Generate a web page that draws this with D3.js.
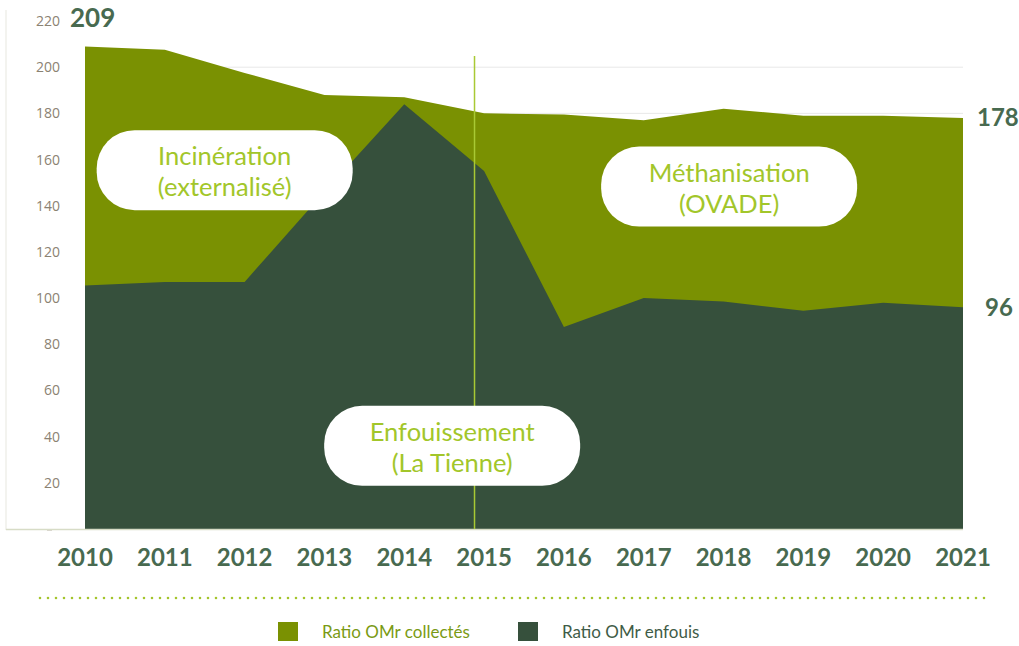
<!DOCTYPE html>
<html>
<head>
<meta charset="utf-8">
<script src="https://cdn.jsdelivr.net/npm/d3@7"></script>
<style>
  body { margin: 0; background: #fff; }
  svg { display: block; }
  .ytick text { font-family: 'Open Sans', sans-serif; font-size: 14px; fill: #8b8272; }
  .year { font-family: Lato, sans-serif; font-weight: 700; font-size: 24px; fill: #486a50; }
  .endval { font-family: Lato, sans-serif; font-weight: 700; font-size: 26px; fill: #486a50; }
  .endval.right { font-size: 24px; }
  .zone { font-family: Lato, sans-serif; font-size: 25.5px; fill: #a2c62a; }
  .leg { font-family: Lato, sans-serif; font-size: 17px; }
</style>
</head>
<body>
<div id="chart"></div>
<script>
'use strict';

const years = [2010, 2011, 2012, 2013, 2014, 2015, 2016, 2017, 2018, 2019, 2020, 2021];
const collectes = [209, 207.5, 197.5, 188, 187, 180, 179.5, 177, 182, 179, 179, 178];
const enfouis = [105.5, 107, 107, 146, 184, 155, 87.5, 100, 98.5, 94.5, 98, 96];
const yTicks = [20, 40, 60, 80, 100, 120, 140, 160, 180, 200, 220];

const zones = [
    {lines: ['Incinération', '(externalisé)'], year: 2011.75, value: 155.4},
    {lines: ['Méthanisation', '(OVADE)'], year: 2018.07, value: 148.3},
    {lines: ['Enfouissement', '(La Tienne)'], year: 2014.6, value: 36}
];

const series = [
    {name: 'Ratio OMr collectés', color: '#7a9102', text: '#7a9a14'},
    {name: 'Ratio OMr enfouis', color: '#36503c', text: '#3f5c47'}
];

const dim = {width: 1019, height: 646, left: 85, right: 963, top: 21, bottom: 529};

const svg = d3.select('#chart')
    .append('svg')
    .attr('width', dim.width)
    .attr('height', dim.height);

const xScale = d3.scalePoint()
    .domain(years)
    .range([dim.left, dim.right]);

const xLin = d3.scaleLinear()
    .domain([years[0], years[years.length - 1]])
    .range([dim.left, dim.right]);

const yScale = d3.scaleLinear()
    .domain([0, 220])
    .range([dim.bottom, dim.top]);

// left frame line
svg.append('line')
    .attr('x1', 6).attr('x2', 6)
    .attr('y1', 10).attr('y2', dim.bottom + 1)
    .attr('stroke', '#efefea').attr('stroke-width', 1.5);

// gridlines
svg.append('g')
    .selectAll('line')
    .data(yTicks.filter(t => t <= 200))
    .enter()
    .append('line')
    .attr('x1', dim.left).attr('x2', dim.right)
    .attr('y1', d => yScale(d)).attr('y2', d => yScale(d))
    .attr('stroke', '#e8e8e8');

// y axis
const yAxis = svg.append('g')
    .attr('transform', 'translate(60,0)')
    .call(d3.axisLeft(yScale).tickValues(yTicks).tickSize(0).tickPadding(0));
yAxis.select('.domain').remove();
yAxis.selectAll('.tick').attr('class', 'ytick');
yAxis.selectAll('text').attr('fill', null);

svg.append('line')
    .attr('x1', 47).attr('x2', 52)
    .attr('y1', yScale(0) + 1).attr('y2', yScale(0) + 1)
    .attr('stroke', '#b5ae9f');

// areas
const area = d3.area()
    .x((d, i) => xScale(years[i]))
    .y0(yScale(0))
    .y1(d => yScale(d));

svg.append('path')
    .datum(collectes)
    .attr('d', area)
    .attr('fill', series[0].color);

svg.append('path')
    .datum(enfouis)
    .attr('d', area)
    .attr('fill', series[1].color);

// baseline
svg.append('line')
    .attr('x1', 6).attr('x2', dim.right)
    .attr('y1', yScale(0) + 0.5).attr('y2', yScale(0) + 0.5)
    .attr('stroke', '#d7dcc6').attr('stroke-width', 1.5);

// 2015 marker
svg.append('line')
    .attr('x1', xLin(2014.88)).attr('x2', xLin(2014.88))
    .attr('y1', 56).attr('y2', yScale(0))
    .attr('stroke', '#a9c934').attr('stroke-width', 1.5);

// zone labels
const zoneG = svg.append('g')
    .selectAll('g')
    .data(zones)
    .enter()
    .append('g')
    .attr('transform', d => 'translate(' + xLin(d.year) + ',' + yScale(d.value) + ')');

zoneG.append('rect')
    .attr('x', -128).attr('y', -40)
    .attr('width', 256).attr('height', 80)
    .attr('rx', 38).attr('ry', 38)
    .attr('fill', '#fff');

zoneG.selectAll('text')
    .data(d => d.lines)
    .enter()
    .append('text')
    .attr('class', 'zone')
    .attr('text-anchor', 'middle')
    .attr('y', (d, i) => i === 0 ? -5 : 26)
    .text(d => d);

// end values
svg.append('text').attr('class', 'endval')
    .attr('x', 70).attr('y', 27)
    .text(collectes[0]);
svg.append('text').attr('class', 'endval right')
    .attr('x', 977).attr('y', yScale(collectes[11]) + 8)
    .text(Math.round(collectes[11]));
svg.append('text').attr('class', 'endval right')
    .attr('x', 985).attr('y', yScale(enfouis[11]) + 9)
    .text(enfouis[11]);

// x labels
svg.append('g')
    .selectAll('text')
    .data(years)
    .enter()
    .append('text')
    .attr('class', 'year')
    .attr('x', d => xScale(d))
    .attr('y', 566)
    .attr('text-anchor', 'middle')
    .text(d => d);

// dotted separator
svg.append('line')
    .attr('x1', 40).attr('x2', 992)
    .attr('y1', 598).attr('y2', 598)
    .attr('stroke', '#a4c52c').attr('stroke-width', 2.6)
    .attr('stroke-linecap', 'round')
    .attr('stroke-dasharray', '0 8');

// legend
const legX = [278, 518];
const leg = svg.append('g')
    .selectAll('g')
    .data(series)
    .enter()
    .append('g')
    .attr('transform', (d, i) => 'translate(' + legX[i] + ',622)');

leg.append('rect')
    .attr('width', 20).attr('height', 19)
    .attr('fill', d => d.color);

leg.append('text')
    .attr('class', 'leg')
    .attr('x', 44).attr('y', 16)
    .attr('fill', d => d.text)
    .text(d => d.name);
</script>
</body>
</html>
